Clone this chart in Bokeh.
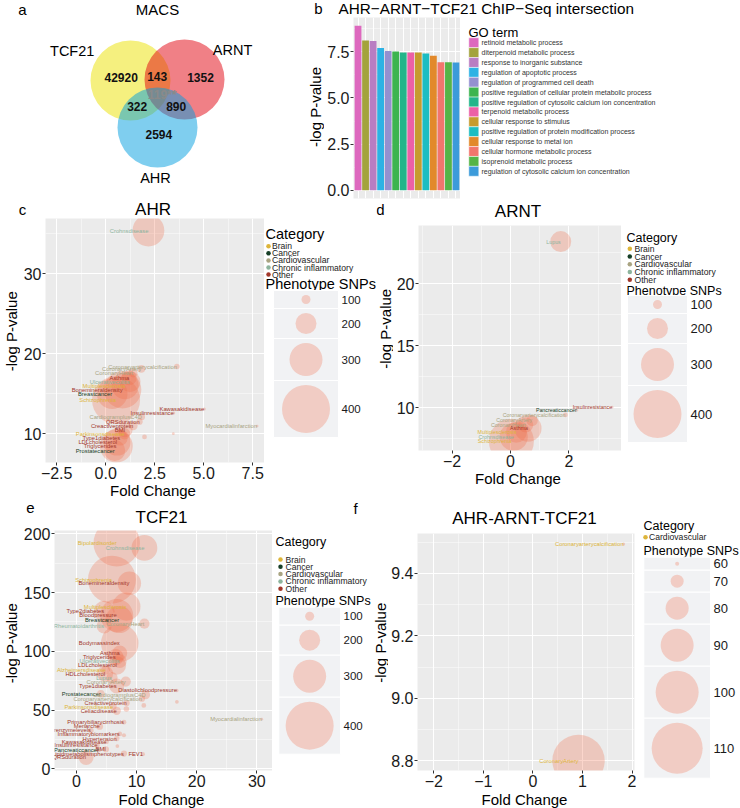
import numpy as np
from bokeh.plotting import figure
from bokeh.models import ColumnDataSource, Range1d, FixedTicker, CustomJSTickFormatter
from bokeh.layouts import row, column
from bokeh.embed import file_html
from bokeh.resources import INLINE
from bokeh.core.properties import value

FONT = "Liberation Sans"
PANEL_BG = "#EBEBEB"
KEY_BG = "#F1F2F4"
BUBBLE = "#F06A48"
BUBBLE_ALPHA = 0.28

# ------------------------------------------------------------------ data
# panel a : Venn counts
venn_sets = ["TCF21", "ARNT", "AHR"]
venn_counts = ["42920", "143", "1352", "119**", "322", "890", "2594"]

# panel b : GO terms
go_terms = ["retinoid metabolic process", "diterpenoid metabolic process",
            "response to inorganic substance", "regulation of apoptotic process",
            "regulation of programmed cell death",
            "positive regulation of cellular protein metabolic process",
            "positive regulation of cytosolic calcium ion concentration",
            "terpenoid metabolic process", "cellular response to stimulus",
            "positive regulation of protein modification process",
            "cellular response to metal ion", "cellular hormone metabolic process",
            "isoprenoid metabolic process",
            "regulation of cytosolic calcium ion concentration"]
go_logp = [8.91, 8.12, 8.08, 7.71, 7.55, 7.52, 7.46, 7.46, 7.46, 7.41, 7.29, 6.93, 6.93, 6.92]
go_colors = ["#DD68BE", "#A3A33C", "#B97DC2", "#2DB2E4", "#9490D0", "#3DB44F", "#23B58A",
             "#EC60A6", "#C69B2E", "#1DBDC2", "#E2892B", "#F2756D", "#55B447", "#3C9BDA"]

categories = ["Brain", "Cancer", "Cardiovascular", "Chronic inflammatory", "Other"]
cat_palette = ["#DDB53A", "#173F27", "#A9A482", "#8DB49D", "#A2372A"]

# panel c : AHR
ahr_pheno = ["Crohnsdisease", "Coronaryarterycalcification", "CoronaryArtery", "CoronaryHeart",
             "Asthma", "Ulcerativecolitis", "Multiplesclerosis", "Bonemineraldensity",
             "Breastcancer", "Schizophrenia", "Kawasakidisease", "Insulinresistance",
             "CardiogramplusC4D", "QRSduration", "Creactiveprotein", "BMI",
             "Myocardialinfarction", "Parkinsonsdisease", "Type1diabetes", "LDLcholesterol",
             "Triglycerides", "Prostatecancer", "", ""]
ahr_fold = [2.18, 3.63, 1.82, 1.40, 1.20, 1.24, 0.99, 0.86, 0.33, 0.53, 5.03, 3.47,
            1.85, 1.73, 1.40, 0.99, 7.72, 0.96, 0.74, 0.58, 0.54, 0.46, 1.98, 3.45]
ahr_logp = [35.4, 18.4, 18.1, 17.6, 17.0, 16.5, 16.0, 15.5, 15.0, 14.2, 13.1, 12.6,
            12.1, 11.5, 11.0, 10.5, 10.95, 10.0, 9.45, 8.95, 8.45, 7.9, 9.6, 10.0]
ahr_snps = [290, 50, 80, 100, 150, 200, 250, 330, 280, 400, 15, 15,
            60, 60, 100, 150, 12, 120, 150, 250, 300, 200, 40, 12]
ahr_cat = ["Chronic inflammatory", "Cardiovascular", "Cardiovascular", "Cardiovascular",
           "Other", "Chronic inflammatory", "Brain", "Other", "Cancer", "Brain", "Other", "Other",
           "Cardiovascular", "Other", "Other", "Other", "Cardiovascular", "Brain", "Other", "Other",
           "Other", "Cancer", "Other", "Other"]

# panel d : ARNT
arnt_pheno = ["Lupus", "Insulinresistance", "Pancreaticcancer", "Coronaryarterycalcification",
              "CoronaryArtery", "CoronaryHeart", "Asthma", "Multiplesclerosis",
              "Crohnsdisease", "Schizophrenia"]
arnt_fold = [1.72, 3.48, 2.27, 1.88, 0.74, 0.52, 0.60, 0.20, 0.11, 0.03]
arnt_logp = [23.4, 10.05, 9.8, 9.43, 8.98, 8.63, 8.36, 8.03, 7.66, 7.3]
arnt_snps = [200, 10, 10, 40, 120, 150, 250, 200, 260, 380]
arnt_cat = ["Chronic inflammatory", "Other", "Cancer", "Cardiovascular", "Cardiovascular",
            "Cardiovascular", "Other", "Brain", "Chronic inflammatory", "Brain"]

# panel e : TCF21
tcf_pheno = ["Bipolardisorder", "Crohnsdisease", "Schizophrenia", "Bonemineraldensity",
             "Multiplesclerosis", "Type2diabetes", "Bloodpressure", "Breastcancer",
             "CoronaryHeart", "Rheumatoidarthritis", "Bodymassindex", "Asthma",
             "Triglycerides", "Ulcerativecolitis", "LDLcholesterol", "Alzheimersdisease",
             "HDLcholesterol", "Lupus", "CoronaryArtery", "Type1diabetes",
             "Diastolicbloodpressure", "Prostatecancer", "CardiogramplusC4D",
             "Coronaryarterycalcification", "Creactiveprotein", "Parkinsonsdisease",
             "Celiacdisease", "Myocardialinfarction", "Primarybiliarycirrhosis", "Menarche",
             "Liverenzymelevels", "Inflammatorybiomarkers", "Hypertension", "Kawasakidisease",
             "Insulinresistance", "Pancreaticcancer", "BMI", "Lipidmetabolismphenotypes",
             "FEV1", "QRSduration", "", "", "", "", ""]
tcf_fold = [6.7, 11.3, 5.9, 8.8, 8.3, 4.6, 6.7, 7.1, 11.3, 4.6, 7.2, 7.2, 6.5, 7.2, 6.7, 4.85,
            4.75, 5.9, 8.2, 6.7, 16.7, 4.05, 11.5, 10.9, 8.35, 6.1, 6.7, 30.8, 7.9, 3.85,
            2.4, 7.2, 6.7, 5.0, 3.5, 3.7, 4.9, 7.9, 11.05, 1.6, 16.7, 8.3, 11.2, 7.9, 6.8]
tcf_logp = [192, 188, 161, 158, 138, 134, 130.5, 127, 123.5, 121.5, 107, 98.6, 95, 91.6, 88,
            84, 81, 77.5, 74.3, 70.5, 66.7, 63.9, 63, 59.7, 56, 53, 49.4, 42.2, 39.7, 36.1,
            32.7, 29.7, 25.8, 23, 20, 16.1, 16.6, 13, 12.5, 9.7, 57, 51, 54, 28.6, 19.4]
tcf_snps = [390, 240, 400, 220, 260, 200, 300, 250, 110, 150, 330, 150, 160, 140, 180, 100,
            160, 120, 110, 150, 20, 80, 100, 60, 60, 70, 90, 12, 40, 70,
            50, 40, 50, 40, 40, 40, 60, 60, 30, 150, 25, 50, 40, 30, 25]
tcf_cat = ["Brain", "Chronic inflammatory", "Brain", "Other", "Brain", "Other", "Other", "Cancer",
           "Cardiovascular", "Chronic inflammatory", "Other", "Other", "Other",
           "Chronic inflammatory", "Other", "Brain", "Other", "Chronic inflammatory",
           "Cardiovascular", "Other", "Other", "Cancer", "Cardiovascular", "Cardiovascular",
           "Other", "Brain", "Other", "Cardiovascular", "Other", "Other", "Other", "Other",
           "Other", "Other", "Other", "Cancer", "Other", "Other", "Other", "Other",
           "Other", "Other", "Other", "Other", "Other"]

# panel f : AHR-ARNT-TCF21
all3_pheno = ["Coronaryarterycalcification", "CoronaryArtery"]
all3_fold = [1.83, 0.92]
all3_logp = [9.494, 8.80]
all3_snps = [57, 112]
all3_cat = ["Cardiovascular", "Cardiovascular"]

# size legends
snp_breaks = [100, 200, 300, 400]
snp_breaks_f = [60, 70, 80, 90, 100, 110]

# ------------------------------------------------------------------ style / layout
SIZE_SNP = [0, 100, 200, 300, 400, 500]
SIZE_DIA = [2, 9, 21, 33, 48, 60]
SIZE_SNP_F = [50, 60, 70, 80, 90, 100, 110, 120]
SIZE_DIA_F = [1, 4, 13, 23, 33, 43, 51, 58]


def base_fig(w, h, xr, yr, **kw):
    p = figure(width=int(round(w)), height=int(round(h)), x_range=Range1d(*xr),
               y_range=Range1d(*yr), output_backend="svg", toolbar_location=None, **kw)
    p.outline_line_color = None
    p.border_fill_color = "white"
    return p


def canvas_fig(box):
    """A blank figure whose data coordinates are the page pixels of its box."""
    fx, fy, fw, fh = box
    p = base_fig(fw, fh, (fx, fx + fw), (fy + fh, fy),
                 min_border_left=0, min_border_right=0, min_border_top=0, min_border_bottom=0)
    p.axis.visible = False
    p.grid.visible = False
    p.background_fill_color = "white"
    return p


def txt(p, x, y, t, size, align="left", color="black", style="normal", angle=0.0):
    p.text(x=x, y=y, text=t, text_font=value(FONT), text_font_size=size,
           text_align=align, text_baseline="middle", text_color=color,
           text_font_style=style, angle=angle)


def style_axes(p, xt, xm, yt, ym, xdec, ydec):
    tx = FixedTicker(ticks=xt, minor_ticks=xm)
    ty = FixedTicker(ticks=yt, minor_ticks=ym)
    p.xaxis.ticker = tx
    p.yaxis.ticker = ty
    p.xgrid.ticker = tx
    p.ygrid.ticker = ty
    for ax, dec in ((p.xaxis[0], xdec), (p.yaxis[0], ydec)):
        ax.axis_line_color = None
        ax.major_tick_line_color = "#333333"
        ax.major_tick_out = 3
        ax.major_tick_in = 0
        ax.minor_tick_line_color = None
        ax.major_label_text_font = FONT
        ax.major_label_text_font_size = "16px"
        ax.major_label_text_color = "#1a1a1a"
        ax.major_label_standoff = 0
        ax.formatter = CustomJSTickFormatter(
            code="return tick.toFixed(%d).replace('-', '\u2212');" % dec)
    for g in (p.xgrid[0], p.ygrid[0]):
        g.grid_line_color = "white"
        g.grid_line_width = 1.1
        g.minor_grid_line_color = "white"
        g.minor_grid_line_width = 0.6
        g.minor_grid_line_alpha = 0.8
    p.background_fill_color = PANEL_BG


def scatter_block(bx0, bx1, by0, by1, fig_x0, fig_y0, fig_y1, frame, xr, yr, ticks, decs,
                  data, size_map, label_font, title, title_y, letter, letter_xy,
                  ylab_x, xlab_y):
    L, T, R, B = frame
    w = bx1 - bx0
    top = canvas_fig((bx0, by0, w, fig_y0 - by0))
    left = canvas_fig((bx0, fig_y0, fig_x0 - bx0, fig_y1 - fig_y0))
    bottom = canvas_fig((bx0, fig_y1, w, by1 - fig_y1))
    p = base_fig(bx1 - fig_x0, fig_y1 - fig_y0, xr, yr,
                 min_border_left=L - fig_x0, min_border_right=bx1 - R,
                 min_border_top=T - fig_y0, min_border_bottom=fig_y1 - B)
    style_axes(p, *ticks, *decs)
    pheno, fold, logp, snps, cats = data
    present = [c for c in categories if c in cats]
    colors = [cat_palette[present.index(c)] for c in cats]
    sizes = np.interp(snps, size_map[0], size_map[1])
    src = ColumnDataSource(dict(fold=fold, logp=logp, name=pheno, size=sizes, color=colors))
    p.scatter(x="fold", y="logp", size="size", marker="circle", source=src,
              fill_color=BUBBLE, fill_alpha=BUBBLE_ALPHA, line_color=None)
    p.text(x="fold", y="logp", text="name", source=src, text_font=value(FONT),
           text_font_size=label_font, text_align="right", text_baseline="middle",
           text_color="color")
    txt(top, [(L + R) / 2], [title_y], [title], "17px", align="center")
    if letter:
        txt(top, [letter_xy[0]], [letter_xy[1]], [letter], "15px", align="center")
    txt(left, [ylab_x], [(T + B) / 2], ["-log P-value"], "15px", align="center",
        angle=np.pi / 2)
    txt(bottom, [(L + R) / 2], [xlab_y], ["Fold Change"], "15px", align="center")
    return column(top, row(left, p), bottom), present


def legend_fig(box, present, title_font, title_x, cat_y, dot_x, item_x, item_y0, item_dy,
               snp_y, key_x0, key_x1, key_y0, key_vals, size_map, num_font, extra=None):
    p = canvas_fig(box)
    txt(p, [title_x], [cat_y], ["Category"], title_font)
    n = len(present)
    ys = item_y0 + item_dy * np.arange(n)
    p.scatter(x=[dot_x] * n, y=ys, size=4.5, marker="circle",
              fill_color=[cat_palette[i] for i in range(n)], line_color=None)
    txt(p, [item_x] * n, ys, present, "8.6px", color="#222222")
    txt(p, [title_x], [snp_y], ["Phenotype SNPs"], title_font)
    dias = np.interp(key_vals, size_map[0], size_map[1])
    hs = dias + 9
    tops = key_y0 + np.concatenate([[0], np.cumsum(hs)[:-1]])
    centers = tops + hs / 2
    m = len(key_vals)
    p.quad(left=[key_x0] * m, right=[key_x1] * m, top=tops, bottom=tops + hs,
           fill_color=KEY_BG, line_color="white", line_width=1)
    p.scatter(x=[(key_x0 + key_x1) / 2] * m, y=centers, size=dias, marker="circle",
              fill_color=BUBBLE, fill_alpha=BUBBLE_ALPHA, line_color=None)
    txt(p, [key_x1 + 3] * m, centers, [str(v) for v in key_vals], num_font, color="#1a1a1a")
    if extra:
        txt(p, [extra[0]], [extra[1]], [extra[2]], "15px", align="center")
    return p


# ------------------------------------------------------------------ panel a (Venn)
pa = canvas_fig((0, 0, 300, 200))
venn_cx = [130, 184, 157]
venn_cy = [80, 79, 127]
venn_fill = ["#EBE200", "#E2020E", "#009DDF"]
pa.circle(x=venn_cx, y=venn_cy, radius=40, fill_color=venn_fill, fill_alpha=0.5, line_color=None)
count_x = [120.7, 156.7, 200, 161.7, 136.7, 175.7, 158.3]
count_y = [77.3, 76, 77, 94.3, 106, 106, 134.3]
count_col = ["#111111", "#111111", "#111111", "#8A8A8A", "#111111", "#111111", "#111111"]
txt(pa, count_x, count_y, venn_counts, "12px", align="center", color=count_col, style="bold")
txt(pa, [71.7, 232, 155], [50, 49, 177], venn_sets, "14.5px", align="center")
txt(pa, [157], [9], ["MACS"], "15px", align="center")
txt(pa, [22], [9], ["a"], "15px", align="center")

# ------------------------------------------------------------------ panel b (bars)
L, T, R, B = 352, 17, 460, 198
b_top = canvas_fig((300, 0, 440, 17))
txt(b_top, [318], [8], ["b"], "15px", align="center")
txt(b_top, [338], [8], ["AHR\u2212ARNT\u2212TCF21 ChIP\u2212Seq intersection"], "15.3px")
b_left = canvas_fig((300, 17, 24, 183))
txt(b_left, [315], [(T + B) / 2], ["-log P-value"], "15px", align="center", angle=np.pi / 2)
pb = base_fig(R - 324, 183, (0.4, len(go_terms) + 0.6), (-0.45, 9.36),
              min_border_left=L - 324, min_border_right=0,
              min_border_top=0, min_border_bottom=200 - B)
pos = np.arange(1, len(go_terms) + 1)
bsrc = ColumnDataSource(dict(x=pos, top=go_logp, color=go_colors, term=go_terms))
pb.vbar(x="x", top="top", width=0.9, source=bsrc, fill_color="color", line_color=None)
style_axes(pb, [int(v) for v in pos], [], [0, 2.5, 5.0, 7.5], [1.25, 3.75, 6.25, 8.75], 0, 1)
pb.xaxis.visible = False
b_leg = canvas_fig((460, 17, 280, 183))
txt(b_leg, [468], [31.7], ["GO term"], "13px")
n_go = len(go_terms)
sw_top = 37.5 + 10 * np.arange(n_go)
b_leg.quad(left=[468.3] * n_go, right=[478.3] * n_go, top=sw_top, bottom=sw_top + 10,
           fill_color=go_colors, line_color="white", line_width=0.5)
txt(b_leg, [481] * n_go, sw_top + 5, go_terms, "7px", color="#333333")
block_b = column(b_top, row(b_left, pb, b_leg))

# ------------------------------------------------------------------ panel c (AHR)
blk_c, pres_c = scatter_block(
    0, 264, 200, 500, 20, 218, 482, (41, 218, 264, 462), (-3.07, 8.1), (6.4, 36.9),
    ([-2.5, 0, 2.5, 5, 7.5], [-1.25, 1.25, 3.75, 6.25], [10, 20, 30], [15, 25, 35]), (1, 0),
    (ahr_pheno, ahr_fold, ahr_logp, ahr_snps, ahr_cat), (SIZE_SNP, SIZE_DIA), "5.8px",
    "AHR", 209, "c", (22, 209), 10.5, 490)
lc = legend_fig((264, 200, 112, 300), pres_c, "14.5px", 265, 233, 268, 271.5, 245.7, 7.1,
                283, 273, 338, 290, snp_breaks, (SIZE_SNP, SIZE_DIA), "11.5px")

# ------------------------------------------------------------------ panel d (ARNT)
blk_d, pres_d = scatter_block(
    376, 621, 200, 500, 393, 225, 470, (414, 225, 621, 450), (-3.15, 3.8), (6.56, 24.7),
    ([-2, 0, 2], [-3, -1, 1, 3], [10, 15, 20], [7.5, 12.5, 17.5, 22.5]), (0, 0),
    (arnt_pheno, arnt_fold, arnt_logp, arnt_snps, arnt_cat), (SIZE_SNP, SIZE_DIA), "5.3px",
    "ARNT", 211, "d", (380, 209), 385, 478)
ld = legend_fig((621, 200, 119, 300), pres_d, "12.5px", 626, 237, 629.3, 634, 248.3, 7.75,
                290.7, 627, 687, 295, snp_breaks, (SIZE_SNP, SIZE_DIA), "13px")

# ------------------------------------------------------------------ panel e (TCF21)
blk_e, pres_e = scatter_block(
    0, 272, 500, 808, 20, 526, 790, (50, 530, 272, 770), (-3.65, 32.6), (-1.4, 202.8),
    ([0, 10, 20, 30], [-5, 5, 15, 25], [0, 50, 100, 150, 200], [25, 75, 125, 175]), (0, 0),
    (tcf_pheno, tcf_fold, tcf_logp, tcf_snps, tcf_cat), (SIZE_SNP, SIZE_DIA), "5.8px",
    "TCF21", 517, "e", (30, 507), 10.5, 799)
le = legend_fig((272, 500, 100, 308), pres_e, "12.5px", 275, 541.7, 280, 285, 559, 7.3,
                600.7, 278.3, 340, 606.7, snp_breaks, (SIZE_SNP, SIZE_DIA), "11.5px",
                extra=(355, 508, "f"))

# ------------------------------------------------------------------ panel f (all three)
blk_f, pres_f = scatter_block(
    372, 636, 500, 808, 388, 533, 790, (414, 533, 634, 770), (-2.33, 2.05), (8.769, 9.528),
    ([-2, -1, 0, 1, 2], [-1.5, -0.5, 0.5, 1.5], [8.8, 9.0, 9.2, 9.4], [8.9, 9.1, 9.3, 9.5]),
    (0, 1), (all3_pheno, all3_fold, all3_logp, all3_snps, all3_cat),
    (SIZE_SNP_F, SIZE_DIA_F), "5.8px", "AHR-ARNT-TCF21", 518, None, None, 380, 799)
lf = legend_fig((636, 500, 104, 308), pres_f, "12.5px", 643, 525, 645, 648.5, 536.7, 7.3,
                550, 643.3, 710, 556.7, snp_breaks_f, (SIZE_SNP_F, SIZE_DIA_F), "13px")

layout = column(row(pa, block_b), row(blk_c, lc, blk_d, ld), row(blk_e, le, blk_f, lf))
open("out.html", "w").write(file_html(layout, INLINE))
